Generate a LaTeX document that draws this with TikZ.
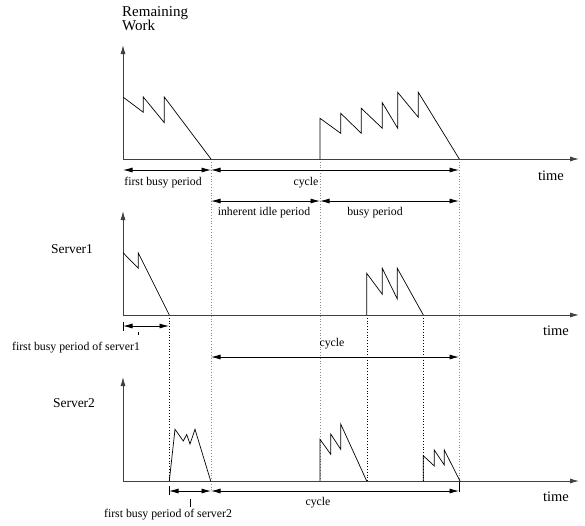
\documentclass[tikz,border=0pt]{standalone}
\usepackage{fontspec}
\setmainfont{Liberation Serif}
\usetikzlibrary{arrows.meta}
\begin{document}
\begin{tikzpicture}[x=1pt,y=-1pt,
  axis/.style={line width=0.9pt,draw=black!75,-{Latex[length=9pt,width=5pt]}},
  curve/.style={line width=0.7pt,draw=black,line join=miter},
  span/.style={line width=0.8pt,{Latex[length=9.5pt,width=5pt]}-{Latex[length=9.5pt,width=5pt]}},
  gdot/.style={line width=0.8pt,draw=black!45,dash pattern=on 0.9pt off 1.9pt},
  bdot/.style={line width=0.8pt,draw=black,dash pattern=on 0.9pt off 1.9pt},
  lbl/.style={font=\fontsize{11.8}{13}\selectfont,inner sep=0pt},
  big/.style={font=\fontsize{14.5}{16}\selectfont,inner sep=0pt},
  srv/.style={font=\fontsize{13.5}{15}\selectfont,inner sep=0pt},
  ttl/.style={font=\fontsize{15}{16}\selectfont,inner sep=0pt,anchor=base west}]
\useasboundingbox (0,0) rectangle (585,525);

% key coordinates
\coordinate (o1) at (123,159);
\coordinate (o2) at (123,315);
\coordinate (o3) at (123,481);

% dotted guide lines
\draw[gdot] (211,159) -- (211,491);
\draw[gdot] (320,159) -- (320,481);
\draw[gdot] (459,159) -- (459,481);
\draw[bdot] (169,315) -- (169,481);
\draw[bdot] (367,315) -- (367,481);
\draw[bdot] (423,315) -- (423,481);

% ---------- top plot ----------
\node[ttl] (rw1) at (122,16) {Remaining};
\node[ttl] (rw2) at (122,30) {Work};
\draw[axis] (o1) -- (123,45);
\draw[axis] (o1) -- (579,159);
\node[big] (t1) at (551,176) {time};
\draw[curve] (123,97) -- (143.3,112.3) -- (143.3,97) -- (164.3,122.7) -- (164.3,97) -- (211,159);
\draw[curve] (320,159) -- (320,118.3) -- (340.7,133.3) -- (340.7,113.3) -- (361.3,133.3) -- (361.3,108.3)
  -- (382.3,128.3) -- (382.3,102.7) -- (397.7,128.3) -- (397.7,92.3) -- (418.3,117.3) -- (418.3,92.3) -- (459.3,159);

\coordinate (a1) at (123,170);
\coordinate (a2) at (211,170);
\coordinate (a3) at (459,170);
\draw[span] (a1) -- (a2);
\draw[span] (a2) -- (a3);
\node[lbl] (l1) at (163,183) {first busy period};
\node[lbl] (l2) at (306,183) {cycle};

\coordinate (b1) at (211,201);
\coordinate (b2) at (320,201);
\coordinate (b3) at (459,201);
\draw[span] (b1) -- (b2);
\draw[span] (b2) -- (b3);
\node[lbl] (l3) at (264,213) {inherent idle period};
\node[lbl] (l4) at (375,213) {busy period};

% ---------- server 1 ----------
\node[srv] (s1) at (72,249) {Server1};
\draw[axis] (o2) -- (123,211);
\draw[axis] (o2) -- (579,315);
\node[big] (t2) at (556,331) {time};
\draw[curve] (123,252.7) -- (138.3,268.3) -- (138.3,253) -- (169.3,315);
\draw[curve] (366.7,315) -- (366.7,273.3) -- (382.3,294.3) -- (382.3,268.3) -- (397.3,299) -- (397.3,268.3) -- (423.3,315);

\coordinate (c1) at (123,326);
\coordinate (c2) at (169,326);
\draw[span] (c1) -- (c2);
\draw[line width=0.8pt] (123,321.5) -- (123,330.5);
\draw[line width=0.8pt] (138.3,331.5) -- (138.3,335);
\node[lbl] (l5) at (76,348) {first busy period of server1};

\coordinate (d1) at (211,357);
\coordinate (d2) at (459,357);
\draw[span] (d1) -- (d2);
\node[lbl] (l6) at (332,344) {cycle};

% ---------- server 2 ----------
\node[srv] (s2) at (74,403) {Server2};
\draw[axis] (o3) -- (123,377);
\draw[axis] (o3) -- (579,481);
\node[big] (t3) at (556,497) {time};
\draw[curve] (169.3,481) -- (175,429.3) -- (183.3,441) -- (186.7,434.5) -- (190,444) -- (195,429.3) -- (210.7,481);
\draw[curve] (320,481) -- (320,439.3) -- (330.7,454.3) -- (330.7,434) -- (340.7,449.3) -- (340.7,424) -- (366.7,481);
\draw[curve] (423.3,481) -- (423.3,455.7) -- (434.3,466) -- (434.3,450) -- (444.3,465) -- (444.3,450) -- (460,481);

\coordinate (e1) at (169,491);
\coordinate (e2) at (211,491);
\coordinate (e3) at (459,491);
\draw[span] (e1) -- (e2);
\draw[span] (e2) -- (e3);
\draw[line width=0.8pt] (169.3,486) -- (169.3,495);
\draw[line width=0.8pt] (459.5,482) -- (459.5,492);
\draw[line width=0.8pt] (190,498.5) -- (190,506.5);
\node[lbl] (l7) at (318,503) {cycle};
\node[lbl] (l8) at (168,515) {first busy period of server2};
\end{tikzpicture}
\end{document}
